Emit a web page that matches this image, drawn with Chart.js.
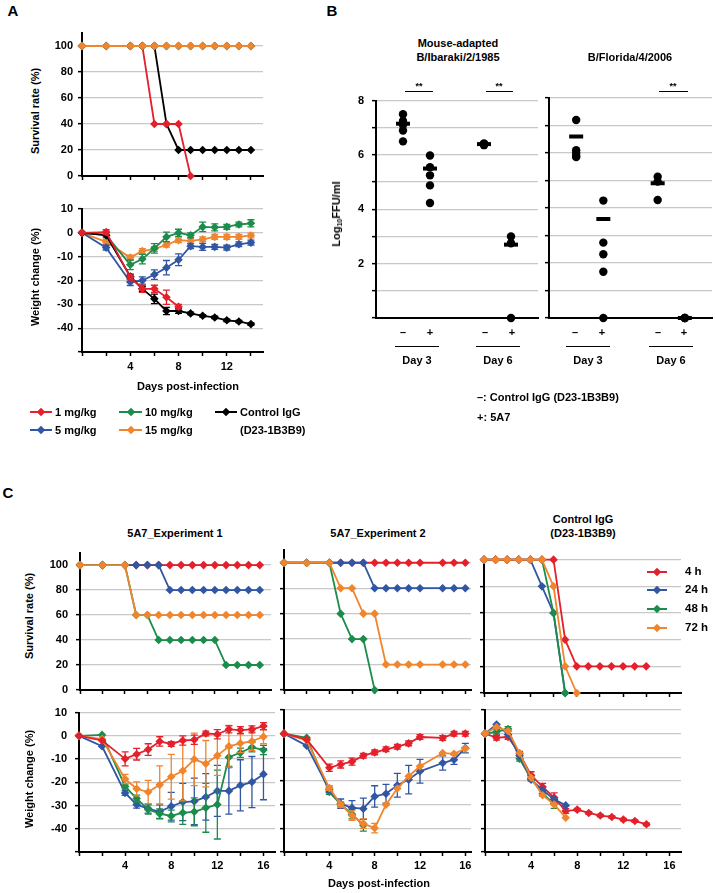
<!DOCTYPE html>
<html>
<head>
<meta charset="utf-8">
<script src="https://cdn.jsdelivr.net/npm/chart.js@4"></script>
<style>
body { margin: 0; background: #fff; }
#fig { position: relative; width: 715px; height: 893px; overflow: hidden;
       font-family: 'Liberation Sans', Arial, sans-serif; font-weight: bold; font-size: 11px; color: #000; }
#fig canvas { position: absolute; }
.t { position: absolute; white-space: nowrap; line-height: 1; }
.hl { position: absolute; height: 0; border-top: 1.5px solid #000; }
sub { font-size: 7px; vertical-align: -2px; }
</style>
</head>
<body>
<div id="fig"></div>
<script>
// ---- Panel A: dose response ----
const aDays = [0, 2, 4, 5, 6, 7, 8, 9, 10, 11, 12, 13, 14];
const aSurv1mg = [100, 100, 100, 100, 40, 40, 40, 0];
const aSurv5mg = [100, 100, 100, 100, 100, 100, 100, 100, 100, 100, 100, 100, 100];
const aSurv10mg = [100, 100, 100, 100, 100, 100, 100, 100, 100, 100, 100, 100, 100];
const aSurv15mg = [100, 100, 100, 100, 100, 100, 100, 100, 100, 100, 100, 100, 100];
const aSurvCtrl = [100, 100, 100, 100, 100, 40, 20, 20, 20, 20, 20, 20, 20];

const aWt1mg = [0, 0.3, -18.6, -23.5, -23.5, -27, -31];
const aWt1mgErr = [0, 1, 1, 1.5, 1.5, 3, 1];
const aWt5mg = [0, -6.2, -20.6, -20, -17.5, -14.6, -11.3, -5.6, -5.9, -5.9, -6.2, -4.8, -4.1];
const aWt5mgErr = [0, 1, 1.5, 1.5, 2, 3, 2.5, 1, 1.5, 1, 1, 1, 1];
const aWt10mg = [0, -1, -13.4, -11, -6.5, -1.7, 0, -1, 2.5, 2.3, 2.5, 3.5, 4];
const aWt10mgErr = [0, 1, 2, 2, 2, 2, 1.5, 1, 2, 1.5, 1, 1, 1.5];
const aWt15mg = [0, -3.8, -10.4, -7.6, -6.8, -5, -3.1, -3.4, -2.7, -1.7, -1.7, -1.7, -1.1];
const aWt15mgErr = [0, 1, 1, 1, 1, 1, 1, 1, 1, 1, 1, 1, 1];
const aWtCtrl = [0, -1, -18.3, -23.5, -27.7, -32.8, -32.8, -33.8, -34.8, -35.5, -36.7, -37.2, -38.3];
const aWtCtrlErr = [0, 0, 1, 1, 2, 1.5, 1, 0.5, 0.5, 0.5, 0.5, 0.5, 0.5];

// ---- Panel B: lung virus titres (log10 FFU/ml) ----
const bGroups = ['Day 3 –', 'Day 3 +', 'Day 6 –', 'Day 6 +'];
const bSlots = [1, 2, 4, 5];
const bIbarakiPts = [[7.5, 7.25, 7.1, 6.9, 6.5], [5.98, 5.55, 5.25, 4.88, 4.23], [6.42, 6.4, 6.38, 6.4, 6.36], [3.0, 2.75, 0]];
const bIbarakiMean = [7.15, 5.5, 6.4, 2.7];
const bFloridaPts = [[7.2, 6.1, 6.0, 5.9, 5.85], [4.27, 2.74, 2.32, 1.68, 0], [5.14, 4.96, 4.29], [0, 0, 0]];
const bFloridaMean = [6.6, 3.6, 4.9, 0];

// ---- Panel C: treatment timing ----
const cExp1Days = [0, 2, 4, 5, 6, 7, 8, 9, 10, 11, 12, 13, 14, 15, 16];
const cExp1Surv4h = [100, 100, 100, 100, 100, 100, 100, 100, 100, 100, 100, 100, 100, 100, 100];
const cExp1Surv24h = [100, 100, 100, 100, 100, 100, 80, 80, 80, 80, 80, 80, 80, 80, 80];
const cExp1Surv48h = [100, 100, 100, 60, 60, 40, 40, 40, 40, 40, 40, 20, 20, 20, 20];
const cExp1Surv72h = [100, 100, 100, 60, 60, 60, 60, 60, 60, 60, 60, 60, 60, 60, 60];
const cExp1Wt4h = [0, -2, -9.9, -7.9, -5.9, -2.4, -3.5, -2, -1.7, 1, 0.7, 2.8, 2.5, 2.8, 4.2];
const cExp1Wt4hErr = [0, 0, 3, 2.5, 2.5, 2, 1, 2, 2, 1, 2, 1.5, 1.5, 1.5, 1.5];
const cExp1Wt24h = [0, -4.5, -24.6, -29.6, -31.3, -32.7, -30.3, -28.5, -28.2, -26.3, -23.7, -23.7, -21.3, -19.9, -16.5];
const cExp1Wt24hErr = [0, 0, 1, 1.5, 2, 3, 6, 8, 10, 10, 11, 10, 11, 11, 11];
const cExp1Wt48h = [0, 0.4, -21.8, -27, -31.7, -33.5, -34.5, -33.1, -32.7, -31, -29.6, -9.2, -7.3, -4.9, -6.1];
const cExp1Wt48hErr = [0, 0, 1, 1.5, 2, 2, 2.5, 5, 6, 10.5, 14.8, 4, 2, 2, 2];
const cExp1Wt72h = [0, -1.4, -18.6, -22.8, -24.2, -21.1, -17.6, -15, -10.1, -12, -8.5, -4.5, -3.2, -2.3, -0.4];
const cExp1Wt72hErr = [0, 0, 2, 3, 5, 8.2, 9.6, 13, 11.3, 10, 8.5, 9, 4, 4, 3];

const cExp2Days = [0, 2, 4, 5, 6, 7, 8, 9, 10, 11, 12, 14, 15, 16];
const cExp2Surv4h = [100, 100, 100, 100, 100, 100, 100, 100, 100, 100, 100, 100, 100, 100];
const cExp2Surv24h = [100, 100, 100, 100, 100, 100, 80, 80, 80, 80, 80, 80, 80, 80];
const cExp2Surv48h = [100, 100, 100, 60, 40, 40, 0];
const cExp2Surv72h = [100, 100, 100, 80, 80, 60, 60, 20, 20, 20, 20, 20, 20, 20];
const cExp2Wt4h = [0, -2.4, -14.4, -13, -11.8, -9.3, -7.9, -6.6, -5.5, -4.1, -1.4, -1.8, 0, 0];
const cExp2Wt4hErr = [0, 0, 1.5, 1.5, 1.5, 1, 1, 1, 1, 1, 1, 1, 1, 1];
const cExp2Wt24h = [0, -5.1, -23.7, -29.6, -31.3, -31.7, -26.5, -25.4, -21.8, -19.4, -15.9, -12.4, -11, -6.1];
const cExp2Wt24hErr = [0, 0, 1, 2, 3, 4.5, 4.5, 4, 5, 6, 5, 3, 2, 2];
const cExp2Wt48h = [0, -1.7, -24.6, -29.9, -34, -38.7];
const cExp2Wt48hErr = [0, 0, 1, 1, 2, 2.5];
const cExp2Wt72h = [0, -2.8, -23, -29.9, -34.6, -38, -39.9, -30, -23.2, -18, -13.8, -8.2, -8.5, -6.3];
const cExp2Wt72hErr = [0, 0, 1, 1, 2, 2, 2, 0, 0, 0, 0, 0, 0, 0];

const cCtrlDays = [0, 1, 2, 3, 4, 5, 6, 7, 8, 9, 10, 11, 12, 13, 14];
const cCtrlSurv4h = [100, 100, 100, 100, 100, 100, 100, 40, 20, 20, 20, 20, 20, 20, 20];
const cCtrlSurv24h = [100, 100, 100, 100, 100, 80, 60, 0];
const cCtrlSurv48h = [100, 100, 100, 100, 100, 100, 60, 0];
const cCtrlSurv72h = [100, 100, 100, 100, 100, 100, 80, 20, 0];
const cCtrlWt4h = [0, -1.7, -1.4, -8.5, -17.6, -22.5, -27, -32.7, -32.1, -33.5, -34.6, -35.2, -36.3, -36.9, -38.3];
const cCtrlWt4hErr = [0, 1, 1, 1, 1.5, 1.5, 2, 1, 0.5, 0.5, 0.5, 0.5, 0.5, 0.5, 0.5];
const cCtrlWt24h = [0, 3.9, -0.4, -9.2, -19.4, -23.9, -27.7, -30.3];
const cCtrlWt48h = [0, 0.8, 2, -10.6, -19, -25.4, -29.6];
const cCtrlWt48hErr = [0, 1, 1, 1, 1, 1, 2];
const cCtrlWt72h = [0, 2.8, 1.1, -8.2, -18.6, -26, -29.9, -35.5];

const RED = '#e3202b', BLUE = '#3156a3', GREEN = '#1c8c4c', ORANGE = '#f0852d', BLACK = '#000';

Chart.defaults.font.family = "'Liberation Sans', Arial, sans-serif";
Chart.defaults.font.size = 11;
Chart.defaults.font.weight = 'bold';
Chart.defaults.color = '#000';
Chart.defaults.animation = false;

const fig = document.getElementById('fig');

// error bars drawn just under each series
const errorBars = {
  id: 'errorBars',
  beforeDatasetDraw(chart, args) {
    const ds = chart.data.datasets[args.index];
    if (!ds.errors) return;
    const ctx = chart.ctx, ys = chart.scales.y;
    ctx.save();
    ctx.strokeStyle = ds.borderColor;
    ctx.lineWidth = 1.3;
    args.meta.data.forEach((pt, j) => {
      const e = ds.errors[j];
      if (!e) return;
      const v = ds.data[j].y;
      const top = ys.getPixelForValue(v + e), bot = ys.getPixelForValue(v - e);
      ctx.beginPath();
      ctx.moveTo(pt.x, top); ctx.lineTo(pt.x, bot);
      ctx.moveTo(pt.x - 3.5, top); ctx.lineTo(pt.x + 3.5, top);
      ctx.moveTo(pt.x - 3.5, bot); ctx.lineTo(pt.x + 3.5, bot);
      ctx.stroke();
    });
    ctx.restore();
  }
};

function series(days, vals, color, errs, order) {
  return {
    data: vals.map((v, i) => ({ x: days[i], y: v })),
    showLine: true, borderColor: color, backgroundColor: color, borderWidth: 1.8,
    pointStyle: 'rectRot', pointRadius: 4.3, pointBorderWidth: 0, pointBackgroundColor: color,
    clip: false, errors: errs, order: order
  };
}

// chart area goes exactly from (x0,y0) to (x1,y1) on the page
function plot(box, datasets, sc) {
  const [x0, y0, x1, y1] = box;
  const yw = 40, xh = 24, padT = 12, padR = 12;
  const c = document.createElement('canvas');
  c.width = Math.round(x1 - x0 + yw + padR);
  c.height = Math.round(y1 - y0 + padT + xh);
  c.style.left = (x0 - yw) + 'px';
  c.style.top = (y0 - padT) + 'px';
  fig.appendChild(c);
  return new Chart(c, {
    type: 'scatter',
    data: { datasets: datasets },
    options: {
      responsive: false,
      animation: false,
      layout: { padding: { top: padT, right: padR, left: 0, bottom: 0 } },
      plugins: { legend: { display: false }, tooltip: { enabled: false } },
      scales: {
        x: {
          type: 'linear', min: sc.xmin ?? 0, max: sc.xmax,
          afterFit: s => { s.height = xh; },
          ticks: { display: sc.xticks !== false, stepSize: sc.xstep ?? 2, includeBounds: false, autoSkip: false,
                   maxRotation: 0, padding: sc.xpad ?? 3, callback: sc.xlab || (() => '') },
          grid: { display: sc.xgrid !== false, drawOnChartArea: false, tickLength: 4, tickColor: '#000', tickWidth: 1.5 },
          border: { color: '#000', width: 2 }
        },
        y: {
          type: 'linear', min: sc.ymin, max: sc.ymax,
          afterFit: s => { s.width = yw; },
          ticks: { stepSize: sc.ystep, includeBounds: false, autoSkip: false, padding: sc.ypad ?? 5,
                   callback: sc.ylab || (() => '') },
          grid: { color: '#c8c8c8', lineWidth: 1.3, tickLength: 4, tickColor: '#000', tickWidth: 1.5 },
          border: { color: '#000', width: 2 }
        }
      }
    },
    plugins: [errorBars]
  });
}

function txt(s, x, y, o = {}) {
  const d = document.createElement('div');
  d.className = 't';
  d.innerHTML = s;
  d.style.left = x + 'px';
  d.style.top = y + 'px';
  if (o.size) d.style.fontSize = o.size + 'px';
  const ax = o.left ? '0' : '-50%';
  d.style.transform = `translate(${ax},-50%)` + (o.rot ? ' rotate(-90deg)' : '');
  fig.appendChild(d);
}
function hline(x1, x2, y) {
  const d = document.createElement('div');
  d.className = 'hl';
  d.style.left = x1 + 'px'; d.style.top = y + 'px'; d.style.width = (x2 - x1) + 'px';
  fig.appendChild(d);
}
function legSym(x1, x2, y, color) {
  const l = document.createElement('div');
  l.style.cssText = `position:absolute;left:${x1}px;top:${y - 1}px;width:${x2 - x1}px;height:2px;background:${color}`;
  const m = document.createElement('div');
  const mx = (x1 + x2) / 2;
  m.style.cssText = `position:absolute;left:${mx - 3}px;top:${y - 3}px;width:6px;height:6px;background:${color};transform:rotate(45deg)`;
  fig.appendChild(l); fig.appendChild(m);
}

const survLab = v => String(v);
const wtLab = v => (v === -50 ? '' : String(v));
const dayLab = v => ([4, 8, 12, 16].includes(v) ? String(v) : '');

// ---------------- Panel A ----------------
txt('A', 13, 10, { size: 15 });
plot([82, 33, 263, 176], [
  series(aDays, aSurv15mg, ORANGE, null, 1),
  series(aDays, aSurv10mg, GREEN, null, 2),
  series(aDays, aSurv5mg, BLUE, null, 3),
  series(aDays, aSurv1mg, RED, null, 4),
  series(aDays, aSurvCtrl, BLACK, null, 5)
], { xmax: 15, ymin: 0, ymax: 110, ystep: 20, ylab: survLab });

plot([82, 209, 263, 351.7], [
  series(aDays, aWt1mg, RED, aWt1mgErr, 1),
  series(aDays, aWtCtrl, BLACK, aWtCtrlErr, 2),
  series(aDays, aWt5mg, BLUE, aWt5mgErr, 3),
  series(aDays, aWt10mg, GREEN, aWt10mgErr, 4),
  series(aDays, aWt15mg, ORANGE, aWt15mgErr, 5)
], { xmax: 15, ymin: -50, ymax: 10, ystep: 10, ylab: wtLab, xlab: dayLab, xpad: 4 });

txt('Survival rate (%)', 35, 111, { rot: true });
txt('Weight change (%)', 35, 277, { rot: true });
txt('Days post-infection', 188, 386);

legSym(30, 52, 412, RED); txt('1 mg/kg', 55, 412, { left: true });
legSym(30, 52, 430, BLUE); txt('5 mg/kg', 55, 430, { left: true });
legSym(119, 142, 412, GREEN); txt('10 mg/kg', 145, 412, { left: true });
legSym(119, 142, 430, ORANGE); txt('15 mg/kg', 145, 430, { left: true });
legSym(215, 237, 412, BLACK); txt('Control IgG', 240, 412, { left: true });
txt('(D23-1B3B9)', 240, 430, { left: true });

// ---------------- Panel B ----------------
txt('B', 332, 10, { size: 15 });
function titreSets(pts, means) {
  const dots = [];
  pts.forEach((g, i) => g.forEach(v => dots.push({ x: bSlots[i], y: v })));
  return [
    { data: means.map((m, i) => ({ x: bSlots[i], y: m })), pointStyle: 'line', pointRadius: 7,
      pointBorderWidth: 4, pointBorderColor: '#000', borderColor: '#000', clip: false, order: 1 },
    { data: dots, pointStyle: 'circle', pointRadius: 4.2, pointBorderWidth: 0,
      pointBackgroundColor: '#000', backgroundColor: '#000', clip: false, order: 2 }
  ];
}
const bEven = v => (v > 0 && v % 2 === 0 ? String(v) : '');
plot([376, 98, 538, 318], titreSets(bIbarakiPts, bIbarakiMean),
  { xmax: 6, xstep: 1, xticks: false, xgrid: false, ymin: 0, ymax: 8, ystep: 1, ylab: bEven, ypad: 8 });
plot([549, 98, 712, 318], titreSets(bFloridaPts, bFloridaMean),
  { xmax: 6, xstep: 1, xticks: false, xgrid: false, ymin: 0, ymax: 8, ystep: 1 });

txt('Mouse-adapted', 458, 43);
txt('B/Ibaraki/2/1985', 458, 57);
txt('B/Florida/4/2006', 630, 57);
txt('Log<sub>10</sub>FFU/ml', 337, 214, { rot: true });

hline(405, 433, 91); txt('**', 419, 86, { size: 9 });
hline(486, 513, 91); txt('**', 499, 86, { size: 9 });
hline(659, 688, 91); txt('**', 673, 86, { size: 9 });

[[403, 430, 395, 439, 417, 'Day 3'], [485, 512, 476, 520, 498, 'Day 6'],
 [575, 602, 566, 610, 588, 'Day 3'], [658, 684, 649, 693, 671, 'Day 6']].forEach(([m, p, u1, u2, c, lab]) => {
  txt('–', m, 332); txt('+', p, 332);
  hline(u1, u2, 346);
  txt(lab, c, 360);
});
txt('–: Control IgG (D23-1B3B9)', 477, 397, { left: true });
txt('+: 5A7', 477, 417, { left: true });

// ---------------- Panel C ----------------
txt('C', 8, 492, { size: 15 });
txt('5A7_Experiment 1', 175, 533);
txt('5A7_Experiment 2', 378, 533);
txt('Control IgG', 583, 519);
txt('(D23-1B3B9)', 583, 533);

plot([80, 550, 271, 690], [
  series(cExp1Days, cExp1Surv72h, ORANGE, null, 1),
  series(cExp1Days, cExp1Surv48h, GREEN, null, 2),
  series(cExp1Days, cExp1Surv24h, BLUE, null, 3),
  series(cExp1Days, cExp1Surv4h, RED, null, 4)
], { xmax: 17, ymin: 0, ymax: 110, ystep: 20, ylab: survLab, ypad: 8 });

plot([284, 550, 471, 690], [
  series(cExp2Days, cExp2Surv72h, ORANGE, null, 1),
  series(cExp2Days, cExp2Surv48h, GREEN, null, 2),
  series(cExp2Days, cExp2Surv24h, BLUE, null, 3),
  series(cExp2Days, cExp2Surv4h, RED, null, 4)
], { xmax: 16.5, ymin: 0, ymax: 110, ystep: 20 });

plot([484, 557, 681, 692.7], [
  series(cCtrlDays, cCtrlSurv72h, ORANGE, null, 1),
  series(cCtrlDays, cCtrlSurv4h, RED, null, 2),
  series(cCtrlDays, cCtrlSurv48h, GREEN, null, 3),
  series(cCtrlDays, cCtrlSurv24h, BLUE, null, 4)
], { xmax: 17, ymin: 0, ymax: 102, ystep: 20 });

plot([79, 710, 275, 851.7], [
  series(cExp1Days, cExp1Wt4h, RED, cExp1Wt4hErr, 1),
  series(cExp1Days, cExp1Wt72h, ORANGE, cExp1Wt72hErr, 2),
  series(cExp1Days, cExp1Wt48h, GREEN, cExp1Wt48hErr, 3),
  series(cExp1Days, cExp1Wt24h, BLUE, cExp1Wt24hErr, 4)
], { xmax: 17, ymin: -50, ymax: 10, ystep: 10, ylab: wtLab, xlab: dayLab, ypad: 8 });

plot([284, 710, 471, 851.7], [
  series(cExp2Days, cExp2Wt4h, RED, cExp2Wt4hErr, 1),
  series(cExp2Days, cExp2Wt72h, ORANGE, cExp2Wt72hErr, 2),
  series(cExp2Days, cExp2Wt24h, BLUE, cExp2Wt24hErr, 3),
  series(cExp2Days, cExp2Wt48h, GREEN, cExp2Wt48hErr, 4)
], { xmax: 16.5, ymin: -50, ymax: 10, ystep: 10, xlab: dayLab });

plot([485, 710, 681, 851.7], [
  series(cCtrlDays, cCtrlWt72h, ORANGE, null, 1),
  series(cCtrlDays, cCtrlWt24h, BLUE, null, 2),
  series(cCtrlDays, cCtrlWt4h, RED, cCtrlWt4hErr, 3),
  series(cCtrlDays, cCtrlWt48h, GREEN, cCtrlWt48hErr, 4)
], { xmax: 17, ymin: -50, ymax: 10, ystep: 10, xlab: dayLab });

txt('Survival rate (%)', 29, 616, { rot: true });
txt('Weight change (%)', 29, 779, { rot: true });
txt('Days post-infection', 379, 883);

[['4 h', RED, 572], ['24 h', BLUE, 590], ['48 h', GREEN, 609], ['72 h', ORANGE, 628]].forEach(([lab, col, y]) => {
  legSym(647, 667, y, col);
  txt(lab, 685, y, { left: true, size: 11.5 });
});
</script>
</body>
</html>
